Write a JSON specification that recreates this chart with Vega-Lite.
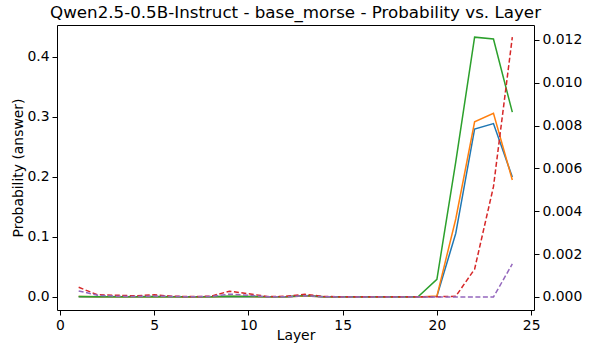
{
  "$schema": "https://vega.github.io/schema/vega-lite/v6.json",
  "width": 477,
  "height": 285,
  "autosize": {"type": "none"},
  "padding": {"left": 57, "top": 25, "right": 55, "bottom": 37},
  "background": "white",
  "config": {
    "font": "DejaVu Sans",
    "view": {"stroke": "black", "strokeWidth": 1},
    "axis": {
      "grid": false,
      "domain": false,
      "tickColor": "black",
      "tickSize": 5,
      "tickWidth": 1,
      "labelColor": "black",
      "labelFontSize": 13.9,
      "labelFont": "DejaVu Sans",
      "titleColor": "black",
      "titleFontSize": 13.9,
      "titleFont": "DejaVu Sans",
      "titleFontWeight": "normal",
      "labelPadding": 3
    }
  },
  "title": {
    "text": "Qwen2.5-0.5B-Instruct - base_morse - Probability vs. Layer",
    "fontSize": 16.7,
    "fontWeight": "normal",
    "font": "DejaVu Sans",
    "color": "black",
    "anchor": "middle",
    "frame": "group",
    "baseline": "top",
    "offset": 0,
    "dy": -3
  },
  "datasets": {
    "left": [
      {"layer": 1, "series": "a", "prob": 0.0005}, {"layer": 2, "series": "a", "prob": 0.0003}, {"layer": 3, "series": "a", "prob": 0.0003}, {"layer": 4, "series": "a", "prob": 0.0002}, {"layer": 5, "series": "a", "prob": 0.0004}, {"layer": 6, "series": "a", "prob": 0.0002}, {"layer": 7, "series": "a", "prob": 0.0001}, {"layer": 8, "series": "a", "prob": 0.0002}, {"layer": 9, "series": "a", "prob": 0.0008}, {"layer": 10, "series": "a", "prob": 0.0005}, {"layer": 11, "series": "a", "prob": 0.0002}, {"layer": 12, "series": "a", "prob": 0.0003}, {"layer": 13, "series": "a", "prob": 0.0015}, {"layer": 14, "series": "a", "prob": 0.0002}, {"layer": 15, "series": "a", "prob": 0.0001}, {"layer": 16, "series": "a", "prob": 0.0001}, {"layer": 17, "series": "a", "prob": 0.0001}, {"layer": 18, "series": "a", "prob": 0.0001}, {"layer": 19, "series": "a", "prob": 0.0001}, {"layer": 20, "series": "a", "prob": 0.001}, {"layer": 21, "series": "a", "prob": 0.106}, {"layer": 22, "series": "a", "prob": 0.28}, {"layer": 23, "series": "a", "prob": 0.289}, {"layer": 24, "series": "a", "prob": 0.2},
      {"layer": 1, "series": "b", "prob": 0.0006}, {"layer": 2, "series": "b", "prob": 0.0004}, {"layer": 3, "series": "b", "prob": 0.0003}, {"layer": 4, "series": "b", "prob": 0.0002}, {"layer": 5, "series": "b", "prob": 0.0005}, {"layer": 6, "series": "b", "prob": 0.0002}, {"layer": 7, "series": "b", "prob": 0.0001}, {"layer": 8, "series": "b", "prob": 0.0002}, {"layer": 9, "series": "b", "prob": 0.001}, {"layer": 10, "series": "b", "prob": 0.0006}, {"layer": 11, "series": "b", "prob": 0.0002}, {"layer": 12, "series": "b", "prob": 0.0003}, {"layer": 13, "series": "b", "prob": 0.0018}, {"layer": 14, "series": "b", "prob": 0.0002}, {"layer": 15, "series": "b", "prob": 0.0001}, {"layer": 16, "series": "b", "prob": 0.0001}, {"layer": 17, "series": "b", "prob": 0.0001}, {"layer": 18, "series": "b", "prob": 0.0001}, {"layer": 19, "series": "b", "prob": 0.0001}, {"layer": 20, "series": "b", "prob": 0.0015}, {"layer": 21, "series": "b", "prob": 0.13}, {"layer": 22, "series": "b", "prob": 0.292}, {"layer": 23, "series": "b", "prob": 0.306}, {"layer": 24, "series": "b", "prob": 0.195},
      {"layer": 1, "series": "c", "prob": 0.0008}, {"layer": 2, "series": "c", "prob": 0.0005}, {"layer": 3, "series": "c", "prob": 0.0004}, {"layer": 4, "series": "c", "prob": 0.0003}, {"layer": 5, "series": "c", "prob": 0.0007}, {"layer": 6, "series": "c", "prob": 0.0003}, {"layer": 7, "series": "c", "prob": 0.0002}, {"layer": 8, "series": "c", "prob": 0.0003}, {"layer": 9, "series": "c", "prob": 0.0013}, {"layer": 10, "series": "c", "prob": 0.0008}, {"layer": 11, "series": "c", "prob": 0.0003}, {"layer": 12, "series": "c", "prob": 0.0005}, {"layer": 13, "series": "c", "prob": 0.0025}, {"layer": 14, "series": "c", "prob": 0.0003}, {"layer": 15, "series": "c", "prob": 0.0002}, {"layer": 16, "series": "c", "prob": 0.0002}, {"layer": 17, "series": "c", "prob": 0.0002}, {"layer": 18, "series": "c", "prob": 0.0002}, {"layer": 19, "series": "c", "prob": 0.0005}, {"layer": 20, "series": "c", "prob": 0.0295}, {"layer": 21, "series": "c", "prob": 0.225}, {"layer": 22, "series": "c", "prob": 0.433}, {"layer": 23, "series": "c", "prob": 0.43}, {"layer": 24, "series": "c", "prob": 0.308}
    ],
    "right": [
      {"layer": 1, "series": "d", "value": 0.00045}, {"layer": 2, "series": "d", "value": 0.0001}, {"layer": 3, "series": "d", "value": 0.00008}, {"layer": 4, "series": "d", "value": 0.00005}, {"layer": 5, "series": "d", "value": 0.0001}, {"layer": 6, "series": "d", "value": 0.00003}, {"layer": 7, "series": "d", "value": 0.00002}, {"layer": 8, "series": "d", "value": 0.00003}, {"layer": 9, "series": "d", "value": 0.00027}, {"layer": 10, "series": "d", "value": 0.00015}, {"layer": 11, "series": "d", "value": 0.00002}, {"layer": 12, "series": "d", "value": 0.00003}, {"layer": 13, "series": "d", "value": 0.00012}, {"layer": 14, "series": "d", "value": 0.00002}, {"layer": 15, "series": "d", "value": 0.00001}, {"layer": 16, "series": "d", "value": 0.00001}, {"layer": 17, "series": "d", "value": 0.00001}, {"layer": 18, "series": "d", "value": 0.00001}, {"layer": 19, "series": "d", "value": 0.00001}, {"layer": 20, "series": "d", "value": 0.00001}, {"layer": 21, "series": "d", "value": 0.00003}, {"layer": 22, "series": "d", "value": 0.0013}, {"layer": 23, "series": "d", "value": 0.00515}, {"layer": 24, "series": "d", "value": 0.01213},
      {"layer": 1, "series": "e", "value": 0.00028}, {"layer": 2, "series": "e", "value": 0.00008}, {"layer": 3, "series": "e", "value": 0.00003}, {"layer": 4, "series": "e", "value": 0.00002}, {"layer": 5, "series": "e", "value": 0.00004}, {"layer": 6, "series": "e", "value": 0.00002}, {"layer": 7, "series": "e", "value": 0.00001}, {"layer": 8, "series": "e", "value": 0.00002}, {"layer": 9, "series": "e", "value": 0.00013}, {"layer": 10, "series": "e", "value": 0.00008}, {"layer": 11, "series": "e", "value": 0.00001}, {"layer": 12, "series": "e", "value": 0.00001}, {"layer": 13, "series": "e", "value": 0.00005}, {"layer": 14, "series": "e", "value": 0.00001}, {"layer": 15, "series": "e", "value": 0.0}, {"layer": 16, "series": "e", "value": 0.0}, {"layer": 17, "series": "e", "value": 0.0}, {"layer": 18, "series": "e", "value": 0.0}, {"layer": 19, "series": "e", "value": 0.0}, {"layer": 20, "series": "e", "value": 0.0}, {"layer": 21, "series": "e", "value": 0.0}, {"layer": 22, "series": "e", "value": 0.0}, {"layer": 23, "series": "e", "value": 0.0}, {"layer": 24, "series": "e", "value": 0.00154}
    ]
  },
  "encoding": {
    "x": {
      "field": "layer",
      "type": "quantitative",
      "scale": {"domain": [-0.15, 25.15], "nice": false, "zero": false},
      "axis": {"values": [0, 5, 10, 15, 20, 25], "title": "Layer", "titlePadding": -3}
    }
  },
  "layer": [
    {
      "data": {"name": "left"},
      "mark": {"type": "line", "strokeWidth": 1.5},
      "encoding": {
        "y": {
          "field": "prob",
          "type": "quantitative",
          "scale": {"domain": [-0.0217, 0.4533], "nice": false, "zero": false},
          "axis": {"values": [0, 0.1, 0.2, 0.3, 0.4], "format": ".1f", "title": "Probability (answer)", "titlePadding": 1}
        },
        "color": {
          "field": "series",
          "type": "nominal",
          "scale": {"domain": ["a", "b", "c", "d", "e"], "range": ["#1f77b4", "#ff7f0e", "#2ca02c", "#d62728", "#9467bd"]},
          "legend": null
        }
      }
    },
    {
      "data": {"name": "right"},
      "mark": {"type": "line", "strokeWidth": 1.5, "strokeDash": [5, 2.5]},
      "encoding": {
        "y": {
          "field": "value",
          "type": "quantitative",
          "scale": {"domain": [-0.00061, 0.0127], "nice": false, "zero": false},
          "axis": {"orient": "right", "values": [0, 0.002, 0.004, 0.006, 0.008, 0.01, 0.012], "format": ".3f", "title": null}
        },
        "color": {
          "field": "series",
          "type": "nominal",
          "legend": null
        }
      }
    }
  ],
  "resolve": {"scale": {"y": "independent"}}
}
